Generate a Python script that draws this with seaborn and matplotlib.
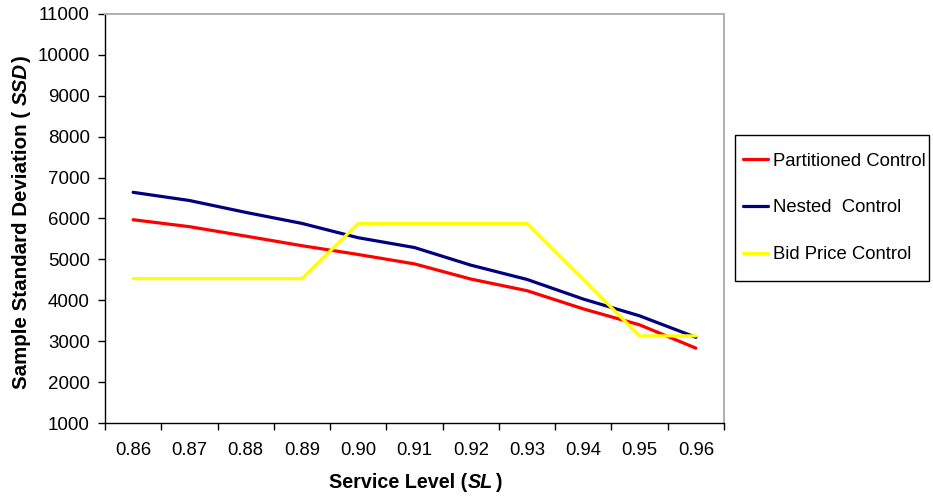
import matplotlib
matplotlib.use("Agg")
import matplotlib.pyplot as plt
from matplotlib.patches import Rectangle
import seaborn as sns
import pandas as pd

# Service level categories and the sample standard deviation of each control policy
service_levels = ["0.86", "0.87", "0.88", "0.89", "0.90", "0.91",
                  "0.92", "0.93", "0.94", "0.95", "0.96"]
partitioned = [5970, 5800, 5570, 5335, 5120, 4890, 4520, 4235, 3790, 3400, 2830]
nested = [6640, 6440, 6150, 5880, 5530, 5290, 4860, 4510, 4030, 3620, 3095]
bid_price = [4530, 4530, 4530, 4530, 5880, 5880, 5880, 5880, 4510, 3130, 3130]

series_names = ["Partitioned Control", "Nested  Control", "Bid Price Control"]
series_values = [partitioned, nested, bid_price]
colors = {"Partitioned Control": "#FF0000",
          "Nested  Control": "#000080",
          "Bid Price Control": "#FFFF00"}

y_ticks = list(range(1000, 11001, 1000))

rows = []
for name, vals in zip(series_names, series_values):
    for i, v in enumerate(vals):
        rows.append({"pos": i, "SSD": v, "Policy": name})
df = pd.DataFrame(rows)

sns.set_style("ticks")
plt.rcParams["font.family"] = ["Liberation Sans", "DejaVu Sans"]
plt.rcParams["text.color"] = "black"

W, H = 933, 498
fig = plt.figure(figsize=(W / 100, H / 100), dpi=100)
ax = fig.add_axes([105 / W, 1 - 423 / H, (724 - 105) / W, (423 - 14) / H])

sns.lineplot(data=df, x="pos", y="SSD", hue="Policy", hue_order=series_names,
             palette=colors, linewidth=2.3, ax=ax, legend=True, sort=False)

ax.set_xlim(-0.5, len(service_levels) - 0.5)
ax.set_ylim(1000, 11000)
ax.set_yticks(y_ticks)
ax.set_yticklabels([str(t) for t in y_ticks], fontsize=13.5)
ax.set_xticks(range(len(service_levels)))
ax.set_xticklabels(service_levels, fontsize=13.3)
ax.set_xticks([i - 0.5 for i in range(len(service_levels) + 1)], minor=True)
ax.tick_params(axis="x", which="major", length=0, pad=14, labelcolor="black",
               bottom=True)
ax.tick_params(axis="x", which="minor", length=5, width=1, color="black",
               direction="out", bottom=True)
ax.tick_params(axis="y", which="major", length=5, width=1, color="black",
               direction="out", pad=6, left=True, labelcolor="black")
ax.set_xlabel("")
ax.set_ylabel("")

for side in ("left", "bottom"):
    ax.spines[side].set_visible(True)
    ax.spines[side].set_color("black")
    ax.spines[side].set_linewidth(1.0)
for side in ("top", "right"):
    ax.spines[side].set_visible(True)
    ax.spines[side].set_color("#b0b0b0")
    ax.spines[side].set_linewidth(1.4)
ax.grid(False)

# Legend box on the right, drawn as a plain rectangle around a frameless legend
handles, labels = ax.get_legend_handles_labels()
leg = ax.legend(handles, labels, loc="center left",
                bbox_to_anchor=(743 / W, 1 - 208 / H),
                bbox_transform=fig.transFigure, fontsize=13.3, frameon=False,
                handlelength=1.38, handletextpad=0.22, labelspacing=1.62,
                borderpad=0, borderaxespad=0)
for line in leg.get_lines():
    line.set_linewidth(2.3)
fig.patches.append(Rectangle((735 / W, 1 - 281 / H), (929 - 735) / W,
                             (281 - 135) / H, transform=fig.transFigure,
                             fill=False, edgecolor="black", linewidth=1.0))

# Axis titles with bold-italic abbreviations, assembled piece by piece
fig.canvas.draw()
renderer = fig.canvas.get_renderer()


def piecewise_label(pieces, x_px, y_px, size, rotation=0, gaps=None):
    gaps = gaps or [0] * len(pieces)
    cx, cy = x_px, y_px
    for (text, style), gap in zip(pieces, gaps):
        if rotation == 0:
            cx += gap
        else:
            cy += gap
        t = fig.text(cx / W, cy / H, text, fontsize=size, fontweight="bold",
                     fontstyle=style, ha="left", va="baseline",
                     rotation=rotation, rotation_mode="anchor")
        bb = t.get_window_extent(renderer)
        if rotation == 0:
            cx = bb.x1
        else:
            cy = bb.y1


piecewise_label([("Service Level (", "normal"), ("SL", "italic"), (")", "normal")],
                329, H - 488, 14.2, rotation=0, gaps=[0, 1, 2])
piecewise_label([("Sample Standard Deviation (", "normal"), ("SSD", "italic"),
                 (")", "normal")],
                27, H - 389, 14.8, rotation=90, gaps=[0, 6, 0])

fig.savefig("out.png", dpi=100)
